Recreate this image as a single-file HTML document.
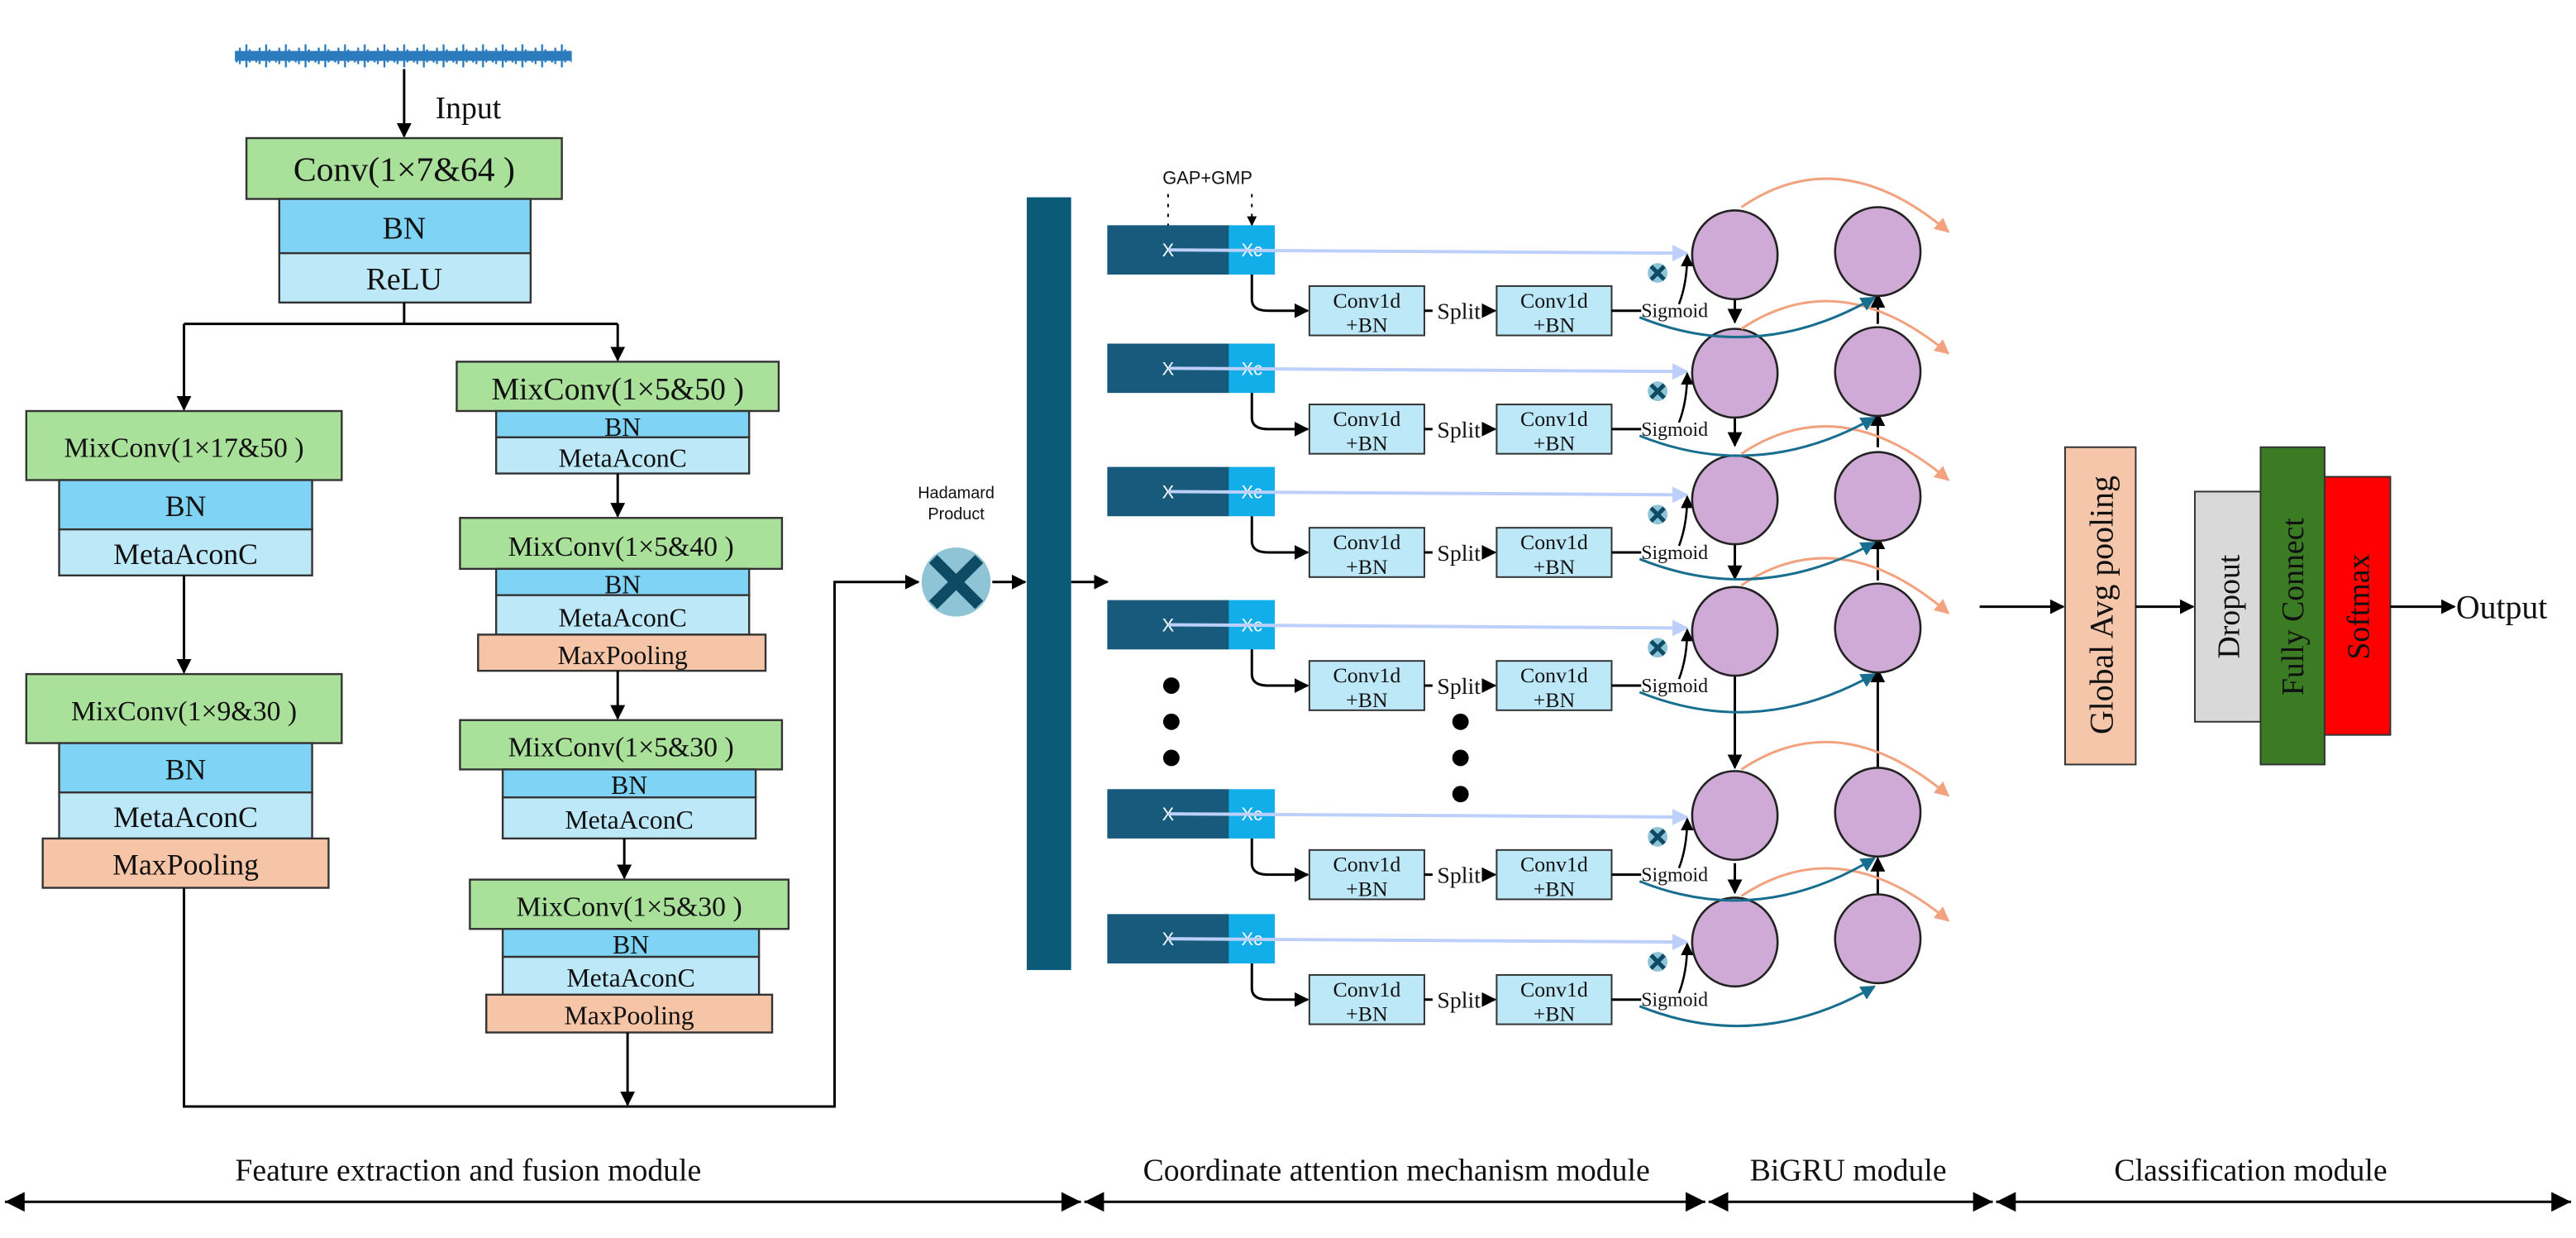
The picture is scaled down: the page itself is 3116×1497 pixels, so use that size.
<!DOCTYPE html>
<html><head><meta charset="utf-8"><style>
html,body{margin:0;padding:0;background:#fff;}
svg{display:block;}
text{font-family:"Liberation Serif",serif;fill:#111;}
.s{font-family:"Liberation Sans Narrow","Liberation Sans",sans-serif;}
</style></head><body>
<svg width="3116" height="1497" viewBox="0 0 1568 753" preserveAspectRatio="none" xmlns="http://www.w3.org/2000/svg">
<defs>
<marker id="a" viewBox="0 0 10 10" refX="9" refY="5" markerWidth="6" markerHeight="6" orient="auto-start-reverse"><path d="M0,0L10,5L0,10z" fill="#000"/></marker>
<marker id="ab" viewBox="0 0 10 10" refX="9" refY="5" markerWidth="5" markerHeight="5" orient="auto"><path d="M0,0L10,5L0,10z" fill="#bcd0fb"/></marker>
<marker id="at" viewBox="0 0 10 10" refX="9" refY="5" markerWidth="6" markerHeight="6" orient="auto"><path d="M0,0L10,5L0,10z" fill="#176e8e"/></marker>
<marker id="ao" viewBox="0 0 10 10" refX="9" refY="5" markerWidth="6" markerHeight="6" orient="auto"><path d="M0,0L10,5L0,10z" fill="#f2a27f"/></marker>
<marker id="bt" viewBox="0 0 10 10" refX="10" refY="5" markerWidth="8" markerHeight="8" orient="auto-start-reverse"><path d="M0,0L10,5L0,10z" fill="#000"/></marker>
<pattern id="sig" x="143" y="0" width="12" height="60" patternUnits="userSpaceOnUse">
<path d="M1,31V38M3,29V39M5,32V37M7,27V41M9,30V38M11,31V36" stroke="#2b7bbd" stroke-width="1.2"/>
</pattern>
<g id="row">
<rect x="674" y="-15" width="74" height="30" fill="#175a7c"/><rect x="748" y="-15" width="28" height="30" fill="#12aeea"/>
<text x="711" y="4" font-size="11" style="fill:#fff" text-anchor="middle" class="s">X</text><text x="762" y="4" font-size="11" style="fill:#fff" text-anchor="middle" class="s">Xc</text>
<line x1="711" y1="0" x2="1027" y2="2" stroke="#bcd0fb" stroke-width="2" marker-end="url(#ab)"/>
<path d="M762,15V30Q762,37 772,37H796" fill="none" stroke="#000" stroke-width="1.5" marker-end="url(#a)"/>
<rect x="797" y="22" width="70" height="30" fill="#bde8f8" stroke="#333"/><rect x="911" y="22" width="70" height="30" fill="#bde8f8" stroke="#333"/>
<text x="832" y="35" font-size="13" text-anchor="middle">Conv1d</text><text x="832" y="50" font-size="13" text-anchor="middle">+BN</text>
<text x="946" y="35" font-size="13" text-anchor="middle">Conv1d</text><text x="946" y="50" font-size="13" text-anchor="middle">+BN</text>
<line x1="867" y1="37" x2="872" y2="37" stroke="#000" stroke-width="1.5"/>
<text x="888" y="42" font-size="14" text-anchor="middle">Split</text>
<line x1="903" y1="37" x2="910" y2="37" stroke="#000" stroke-width="1.5" marker-end="url(#a)"/>
<line x1="981" y1="37" x2="999" y2="37" stroke="#000" stroke-width="1.5"/><text x="999" y="41" font-size="12">Sigmoid</text>
<circle cx="1009" cy="14" r="6" fill="#8fc3d6"/><path d="M1005,10L1013,18M1013,10L1005,18" stroke="#0d4a63" stroke-width="2.5"/>
<path d="M1022,33Q1027,20 1027,3" fill="none" stroke="#000" stroke-width="1.3" marker-end="url(#a)"/>
</g>
</defs>

<rect x="143" y="31" width="205" height="6" fill="#2b7bbd"/>
<rect x="143" y="24" width="205" height="20" fill="url(#sig)"/>
<line x1="246" y1="42" x2="246" y2="83" stroke="#000" stroke-width="1.5" marker-end="url(#a)"/>
<text x="265" y="72" font-size="19">Input</text>

<g stroke="#333" stroke-width="1.2">
<rect x="150" y="84" width="192" height="37" fill="#a9e09a"/>
<rect x="170" y="121" width="153" height="33" fill="#7fd3f5"/>
<rect x="170" y="154" width="153" height="30" fill="#bde8f8"/>
<rect x="16" y="250" width="192" height="42" fill="#a9e09a"/>
<rect x="36" y="292" width="154" height="30" fill="#7fd3f5"/>
<rect x="36" y="322" width="154" height="28" fill="#bde8f8"/>
<rect x="16" y="410" width="192" height="42" fill="#a9e09a"/>
<rect x="36" y="452" width="154" height="30" fill="#7fd3f5"/>
<rect x="36" y="482" width="154" height="28" fill="#bde8f8"/>
<rect x="26" y="510" width="174" height="30" fill="#f6c4a6"/>
<rect x="278" y="220" width="196" height="30" fill="#a9e09a"/>
<rect x="302" y="250" width="154" height="16" fill="#7fd3f5"/>
<rect x="302" y="266" width="154" height="22" fill="#bde8f8"/>
<rect x="280" y="315" width="196" height="31" fill="#a9e09a"/>
<rect x="302" y="346" width="154" height="16" fill="#7fd3f5"/>
<rect x="302" y="362" width="154" height="24" fill="#bde8f8"/>
<rect x="291" y="386" width="175" height="22" fill="#f6c4a6"/>
<rect x="280" y="438" width="196" height="30" fill="#a9e09a"/>
<rect x="306" y="468" width="154" height="17" fill="#7fd3f5"/>
<rect x="306" y="485" width="154" height="25" fill="#bde8f8"/>
<rect x="286" y="535" width="194" height="30" fill="#a9e09a"/>
<rect x="306" y="565" width="156" height="17" fill="#7fd3f5"/>
<rect x="306" y="582" width="156" height="23" fill="#bde8f8"/>
<rect x="296" y="605" width="174" height="23" fill="#f6c4a6"/>
</g>
<g text-anchor="middle">
<text x="246" y="110" font-size="21">Conv(1×7&amp;64 )</text>
<text x="246" y="145" font-size="19">BN</text>
<text x="246" y="176" font-size="19">ReLU</text>
<text x="112" y="278" font-size="17">MixConv(1×17&amp;50 )</text>
<text x="113" y="314" font-size="18">BN</text>
<text x="113" y="343" font-size="18">MetaAconC</text>
<text x="112" y="438" font-size="17">MixConv(1×9&amp;30 )</text>
<text x="113" y="474" font-size="18">BN</text>
<text x="113" y="503" font-size="18">MetaAconC</text>
<text x="113" y="532" font-size="18">MaxPooling</text>
<text x="376" y="243" font-size="19">MixConv(1×5&amp;50 )</text>
<text x="379" y="265" font-size="16">BN</text>
<text x="379" y="284" font-size="16">MetaAconC</text>
<text x="378" y="338" font-size="17">MixConv(1×5&amp;40 )</text>
<text x="379" y="361" font-size="16">BN</text>
<text x="379" y="381" font-size="16">MetaAconC</text>
<text x="379" y="404" font-size="16">MaxPooling</text>
<text x="378" y="460" font-size="17">MixConv(1×5&amp;30 )</text>
<text x="383" y="483" font-size="16">BN</text>
<text x="383" y="504" font-size="16">MetaAconC</text>
<text x="383" y="557" font-size="17">MixConv(1×5&amp;30 )</text>
<text x="384" y="580" font-size="16">BN</text>
<text x="384" y="600" font-size="16">MetaAconC</text>
<text x="383" y="623" font-size="16">MaxPooling</text>
</g>
<g stroke="#000" stroke-width="1.5" fill="none">
<polyline points="246,184 246,197"/>
<polyline points="112,197 376,197"/>
<line x1="112" y1="197" x2="112" y2="249" marker-end="url(#a)"/>
<line x1="376" y1="197" x2="376" y2="219" marker-end="url(#a)"/>
<line x1="112" y1="350" x2="112" y2="409" marker-end="url(#a)"/>
<line x1="376" y1="288" x2="376" y2="314" marker-end="url(#a)"/>
<line x1="376" y1="408" x2="376" y2="437" marker-end="url(#a)"/>
<line x1="380" y1="510" x2="380" y2="534" marker-end="url(#a)"/>
<line x1="382" y1="628" x2="382" y2="672" marker-end="url(#a)"/>
<polyline points="112,540 112,673 508,673 508,354 559,354" marker-end="url(#a)"/>
<line x1="604" y1="354" x2="624" y2="354" marker-end="url(#a)"/>
<line x1="652" y1="354" x2="674" y2="354" marker-end="url(#a)"/>
</g>
<text x="582" y="303" font-size="10" text-anchor="middle" class="s">Hadamard</text>
<text x="582" y="316" font-size="10" text-anchor="middle" class="s">Product</text>
<circle cx="582" cy="354" r="21" fill="#8fc3d6"/>
<path d="M568,340L596,368M596,340L568,368" stroke="#0d4a63" stroke-width="7"/>
<rect x="625" y="120" width="27" height="470" fill="#0b5a78"/>

<text x="735" y="112" font-size="11" text-anchor="middle" class="s">GAP+GMP</text>
<line x1="711" y1="118" x2="711" y2="138" stroke="#000" stroke-dasharray="2,4"/>
<line x1="762" y1="118" x2="762" y2="137" stroke="#000" stroke-dasharray="2,4" marker-end="url(#a)"/>

<use href="#row" transform="translate(0,152)"/>
<use href="#row" transform="translate(0,224)"/>
<use href="#row" transform="translate(0,299)"/>
<use href="#row" transform="translate(0,380)"/>
<use href="#row" transform="translate(0,495)"/>
<use href="#row" transform="translate(0,571)"/>

<g fill="#000">
<circle cx="713" cy="417" r="5"/><circle cx="713" cy="439" r="5"/><circle cx="713" cy="461" r="5"/>
<circle cx="889" cy="439" r="5"/><circle cx="889" cy="461" r="5"/><circle cx="889" cy="483" r="5"/>
</g>

<g stroke="#000" stroke-width="1.5">
<line x1="1056" y1="182" x2="1056" y2="196" marker-end="url(#a)"/>
<line x1="1056" y1="254" x2="1056" y2="271" marker-end="url(#a)"/>
<line x1="1056" y1="329" x2="1056" y2="352" marker-end="url(#a)"/>
<line x1="1056" y1="410" x2="1056" y2="467" marker-end="url(#a)"/>
<line x1="1056" y1="525" x2="1056" y2="543" marker-end="url(#a)"/>
<line x1="1143" y1="197" x2="1143" y2="179" marker-end="url(#a)"/>
<line x1="1143" y1="272" x2="1143" y2="251" marker-end="url(#a)"/>
<line x1="1143" y1="353" x2="1143" y2="326" marker-end="url(#a)"/>
<line x1="1143" y1="468" x2="1143" y2="407" marker-end="url(#a)"/>
<line x1="1143" y1="544" x2="1143" y2="522" marker-end="url(#a)"/>
</g>
<g fill="#d0aad6" stroke="#222" stroke-width="1.3">
<ellipse cx="1056" cy="155" rx="26" ry="27"/><ellipse cx="1143" cy="153" rx="26" ry="27"/>
<ellipse cx="1056" cy="227" rx="26" ry="27"/><ellipse cx="1143" cy="226" rx="26" ry="27"/>
<ellipse cx="1056" cy="304" rx="26" ry="27"/><ellipse cx="1143" cy="302" rx="26" ry="27"/>
<ellipse cx="1056" cy="384" rx="26" ry="27"/><ellipse cx="1143" cy="382" rx="26" ry="27"/>
<ellipse cx="1056" cy="496" rx="26" ry="27"/><ellipse cx="1143" cy="494" rx="26" ry="27"/>
<ellipse cx="1056" cy="573" rx="26" ry="27"/><ellipse cx="1143" cy="571" rx="26" ry="27"/>
</g>
<g fill="none" stroke="#f2a27f" stroke-width="1.5" marker-end="url(#ao)">
<path d="M1060,126Q1120,85 1186,141"/>
<path d="M1060,200Q1120,160 1186,215"/>
<path d="M1060,276Q1120,236 1186,292"/>
<path d="M1060,356Q1120,316 1186,373"/>
<path d="M1060,468Q1120,428 1186,484"/>
<path d="M1060,545Q1120,505 1186,560"/>
</g>
<g fill="none" stroke="#176e8e" stroke-width="1.5" marker-end="url(#at)">
<path d="M998,193Q1070,222 1141,181"/>
<path d="M998,265Q1070,294 1141,254"/>
<path d="M998,340Q1070,369 1141,330"/>
<path d="M998,421Q1070,450 1141,410"/>
<path d="M998,536Q1070,565 1141,522"/>
<path d="M998,612Q1070,641 1141,600"/>
</g>

<line x1="1205" y1="369" x2="1256" y2="369" stroke="#000" stroke-width="1.5" marker-end="url(#a)"/>
<rect x="1257" y="272" width="43" height="193" fill="#f6c6ab" stroke="#333"/>
<text transform="translate(1286,368) rotate(-90)" font-size="20" text-anchor="middle">Global Avg pooling</text>
<line x1="1300" y1="369" x2="1335" y2="369" stroke="#000" stroke-width="1.5" marker-end="url(#a)"/>
<rect x="1336" y="299" width="40" height="140" fill="#d9d9d9" stroke="#333"/>
<text transform="translate(1363,369) rotate(-90)" font-size="19" text-anchor="middle">Dropout</text>
<rect x="1376" y="272" width="39" height="193" fill="#3a7b23" stroke="#333"/>
<text transform="translate(1402,369) rotate(-90)" font-size="19" text-anchor="middle">Fully Connect</text>
<rect x="1415" y="290" width="40" height="157" fill="#ff0000" stroke="#333"/>
<text transform="translate(1442,369) rotate(-90)" font-size="19" text-anchor="middle">Softmax</text>
<line x1="1455" y1="369" x2="1494" y2="369" stroke="#000" stroke-width="1.5" marker-end="url(#a)"/>
<text x="1495" y="376" font-size="20">Output</text>

<g stroke="#000" stroke-width="1.5">
<line x1="3" y1="731" x2="658" y2="731" marker-start="url(#bt)" marker-end="url(#bt)"/>
<line x1="660" y1="731" x2="1038" y2="731" marker-start="url(#bt)" marker-end="url(#bt)"/>
<line x1="1040" y1="731" x2="1213" y2="731" marker-start="url(#bt)" marker-end="url(#bt)"/>
<line x1="1215" y1="731" x2="1565" y2="731" marker-start="url(#bt)" marker-end="url(#bt)"/>
</g>
<g font-size="19" text-anchor="middle">
<text x="285" y="718">Feature extraction and fusion module</text>
<text x="850" y="718">Coordinate attention mechanism module</text>
<text x="1125" y="718">BiGRU module</text>
<text x="1370" y="718">Classification module</text>
</g>
</svg>
</body></html>
